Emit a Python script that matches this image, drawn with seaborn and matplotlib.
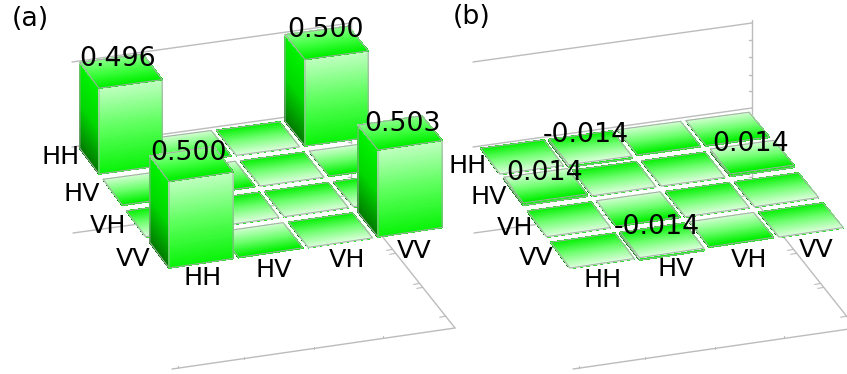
# -*- coding: utf-8 -*-
import numpy as np
import matplotlib
matplotlib.use('Agg')
import matplotlib.pyplot as plt
import seaborn as sns
from matplotlib.collections import PolyCollection

# ---- data ----
BASIS = ['HH', 'HV', 'VH', 'VV']

# rows go back to front, columns left to right
real_part = [[0.496, 0.002, -0.002, 0.500],
             [0.002, 0.002, -0.002, 0.002],
             [-0.002, -0.002, -0.002, -0.002],
             [0.500, 0.002, -0.002, 0.503]]
imag_part = [[-0.003, -0.014, 0.003, 0.003],
             [0.014, -0.003, -0.003, 0.014],
             [-0.003, 0.003, -0.003, -0.003],
             [-0.003, -0.014, 0.003, -0.003]]

# only these cells carry a number
real_labelled = [(0, 0), (0, 3), (3, 0), (3, 3)]
imag_labelled = [(0, 1), (1, 0), (1, 3), (3, 1)]

# ---- view: pixel position of the front-left corner of the four corner cells ----
CORNERS = {'hh': (99, 174), 'hv': (305, 146), 'vh': (169, 268), 'vv': (378, 237)}
Z_SCALE = 173.0
BAR_W = 0.92
BAR_D = 0.82
PANEL_DX = 401

ROW_LABEL_XY = {'a': [(61, 157), (82, 194), (108, 226), (133, 259)],
                'b': [(468, 166), (489, 197), (515, 228), (536, 258)]}
COL_LABEL_XY = {'a': [(203, 278), (274, 270), (347, 260), (414, 251)],
                'b': [(603, 280), (676, 269), (749, 260), (816, 250)]}
# small nudges for the numbers above the bars
VALUE_NUDGE = {(0, 0): (-2, 1), (3, 0): (-2, 2), (3, 3): (3, 4)}

sns.set_theme(style='white')
plt.rcParams['font.family'] = ['DejaVu Sans']

AXIS_COL = '#bcbcbc'
EDGE_COL = '#a8a8a8'
N_STRIP = 40

# gradients run from the first colour to the second across a face
front_pal = sns.blend_palette(['#c0ffc0', '#5cff5c', '#0cf40c'], N_STRIP)
left_pal = sns.blend_palette(['#00f400', '#00d800', '#008000'], N_STRIP)
tile_pal = sns.blend_palette(['#d4ffd4', '#70ff70', '#00f000'], N_STRIP)
lid_pal = sns.blend_palette(['#8cff8c', '#40ff40', '#00f000'], N_STRIP)


def project(u, v, z, dx):
    """(column, row, height) -> pixel position."""
    a = np.array(CORNERS['hh'], float)
    b = np.array(CORNERS['hv'], float)
    c = np.array(CORNERS['vh'], float)
    d = np.array(CORNERS['vv'], float)
    fu, fv = u / 3.0, v / 3.0
    p = (1 - fv) * ((1 - fu) * a + fu * b) + fv * ((1 - fu) * c + fu * d)
    return np.array([p[0] + dx, p[1] - z * Z_SCALE])


def shade(ax, p0, p1, q0, q1, pal):
    """Fill the quad p0-p1-q1-q0 in strips, p edge gets pal[0]."""
    polys = []
    for i in range(N_STRIP):
        t0, t1 = i / N_STRIP, (i + 1) / N_STRIP
        polys.append([p0 + (q0 - p0) * t0, p1 + (q1 - p1) * t0,
                      p1 + (q1 - p1) * t1, p0 + (q0 - p0) * t1])
    ax.add_collection(PolyCollection(polys, facecolors=pal, edgecolors=pal,
                                     linewidths=0.5, antialiaseds=False, zorder=3))
    outline = np.array([p0, p1, q1, q0, p0])
    ax.plot(outline[:, 0], outline[:, 1], color=EDGE_COL, lw=0.7, zorder=3)


def draw_cell(ax, col, row, val, dx):
    lo, hi = min(0, val), max(0, val)
    fl, fr = (col, row), (col + BAR_W, row)
    bl, br = (col, row - BAR_D), (col + BAR_W, row - BAR_D)
    # left side, front side, then the lid
    shade(ax, project(*bl, hi, dx), project(*fl, hi, dx),
          project(*bl, lo, dx), project(*fl, lo, dx), left_pal)
    shade(ax, project(*fl, hi, dx), project(*fr, hi, dx),
          project(*fl, lo, dx), project(*fr, lo, dx), front_pal)
    if val > 0.1:
        pal = lid_pal
    else:
        pal = tile_pal if val > 0 else tile_pal[::-1]
    shade(ax, project(*bl, hi, dx), project(*br, hi, dx),
          project(*fl, hi, dx), project(*fr, hi, dx), pal)


def draw_frame(ax, dx):
    lines = [((72, 62), (351, 23)), ((72, 147), (351, 108)),
             ((351, 20), (351, 197)), ((73, 233), (351, 195)),
             ((351, 197), (455, 328)), ((172, 369), (455, 328))]
    for (x0, y0), (x1, y1) in lines:
        ax.plot([x0 + dx, x1 + dx], [y0, y1], color=AXIS_COL, lw=1, zorder=1)
    for y in [40, 57, 75, 91, 142, 177]:
        ax.plot([348 + dx, 351 + dx], [y, y], color=AXIS_COL, lw=1, zorder=1)
    for t in [0.40, 0.43, 0.66, 0.69, 0.91]:
        x = 351 + 104 * t
        y = 197 + 131 * t
        ax.plot([x - 6 + dx, x + dx], [y + 1, y], color=AXIS_COL, lw=0.8, zorder=1)
    for t in [0.02, 0.255, 0.50, 0.745]:
        x = 172 + 283 * t
        y = 369 - 41 * t
        ax.plot([x + dx, x + dx], [y - 2, y], color=AXIS_COL, lw=0.8, zorder=1)


def draw_panel(ax, matrix, labelled, name, dx):
    draw_frame(ax, dx)
    for row in range(4):
        for col in range(3, -1, -1):
            draw_cell(ax, col, row, matrix[row][col], dx)
    for row, col in labelled:
        val = matrix[row][col]
        cx, cy = project(col + BAR_W / 2, row - BAR_D / 2, max(0, val), dx)
        shift = -5 if val < 0 else -1
        nx, ny = VALUE_NUDGE.get((row, col), (0, 0)) if name == 'a' else (0, 0)
        ax.text(cx + shift + nx, cy - 13 + ny, f'{val:.3f}', fontsize=19.3, color='black',
                ha='center', va='center', zorder=5)
    for lab, (x, y) in zip(BASIS, ROW_LABEL_XY[name]):
        ax.text(x, y, lab, fontsize=18.3, color='black', ha='center', va='center', zorder=5)
    for lab, (x, y) in zip(BASIS, COL_LABEL_XY[name]):
        ax.text(x, y, lab, fontsize=18.3, color='black', ha='center', va='center', zorder=5)


fig = plt.figure(figsize=(8.47, 3.74), dpi=100, facecolor='white')
ax = fig.add_axes([0, 0, 1, 1])
ax.set_xlim(0, 847)
ax.set_ylim(374, 0)
ax.axis('off')

draw_panel(ax, real_part, real_labelled, 'a', 0)
draw_panel(ax, imag_part, imag_labelled, 'b', PANEL_DX)

ax.text(30, 19, '(a)', fontsize=19.3, color='black', ha='center', va='center', zorder=5)
ax.text(472, 17, '(b)', fontsize=19.3, color='black', ha='center', va='center', zorder=5)

fig.savefig('out.png', dpi=100)
plt.close(fig)
